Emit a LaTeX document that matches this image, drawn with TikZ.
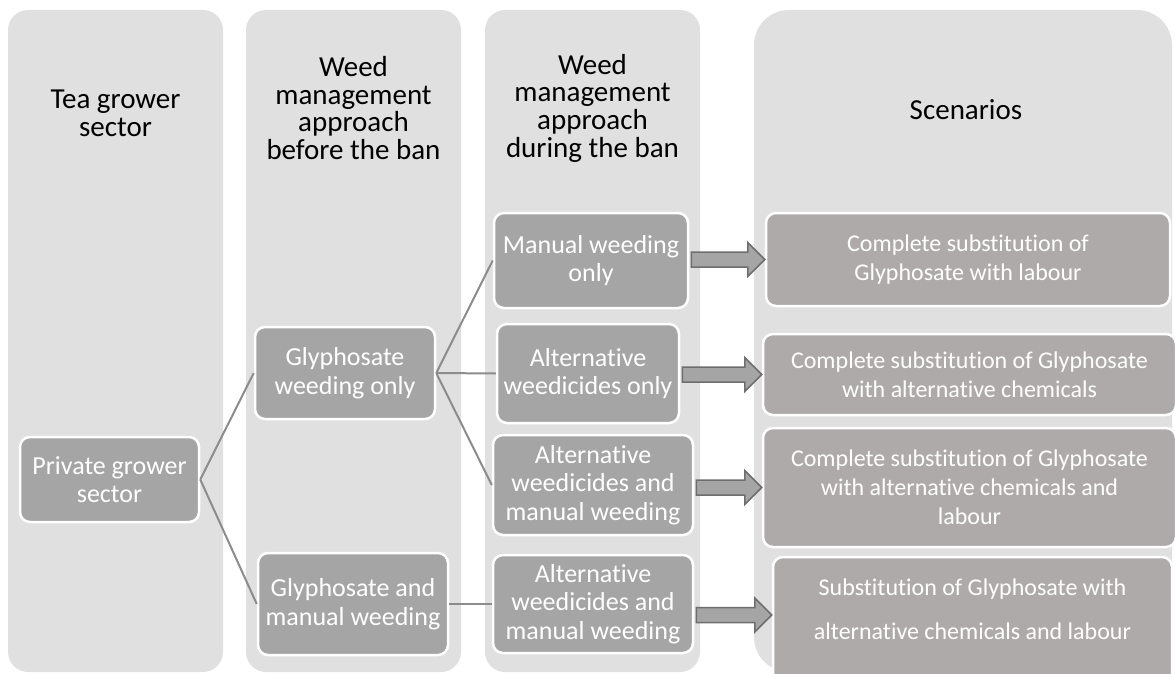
\documentclass[tikz,border=0pt]{standalone}
\usepackage{fontspec}
\setmainfont{Carlito}[Ligatures={NoCommon}]
\usepackage{tikz}
\usetikzlibrary{calc}

\definecolor{colbg}{RGB}{224,224,224}
\definecolor{boxgray}{RGB}{165,165,165}
\definecolor{scengray}{RGB}{174,170,170}
\definecolor{linegray}{RGB}{140,140,140}
\definecolor{arrowedge}{RGB}{110,110,110}

\begin{document}
\begin{tikzpicture}[x=1pt, y=-1pt,
    head/.style={align=center, font=\fontsize{29}{27.7}\selectfont},
    box/.style={draw=white, line width=2.5pt, fill=boxgray, rounded corners=10pt,
        text=white, align=center, inner sep=0pt, font=\fontsize{26}{28.5}\selectfont},
    scen/.style={box, fill=scengray, font=\fontsize{24}{29}\selectfont},
    link/.style={draw=linegray, line width=2pt},
    blockarrow/.style={draw=arrowedge, fill=boxgray, line width=1.5pt,
        to path={let \p1=(\tikztostart), \p2=(\tikztotarget) in
            (\x1+2pt,\y2+7.5pt) -- (\x2-17pt,\y2+7.5pt) -- (\x2-17pt,\y2+17pt) -- (\x2,\y2)
            -- (\x2-17pt,\y2-17pt) -- (\x2-17pt,\y2-7.5pt) -- (\x1+2pt,\y2-7.5pt) -- cycle}}]

    \clip (0,0) rectangle (1175,674);

    \fill[colbg, rounded corners=20pt] (8,10) rectangle (223,672);
    \fill[colbg, rounded corners=20pt] (246,10) rectangle (461,672);
    \fill[colbg, rounded corners=20pt] (485,10) rectangle (700,672);
    \fill[colbg, rounded corners=35pt] (754,10) rectangle (1172,672);

    \node[head] (sector) at (115.5,113) {Tea grower\\sector};
    \node[head] (before) at (353.5,108) {Weed\\management\\approach\\before the ban};
    \node[head] (during) at (592.5,108) {Weed\\management\\approach\\during the ban};
    \node[head] (scenarios) at (966,110) {Scenarios};

    \node[box, minimum width=179pt, minimum height=85pt] (private) at (109.5,479.5) {Private grower\\sector};

    \node[box, minimum width=180pt, minimum height=92pt] (glyonly) at (345,373) {Glyphosate\\weeding only};
    \node[box, minimum width=190pt, minimum height=102pt] (glyman) at (353,604) {Glyphosate and\\manual weeding};

    \node[box, minimum width=194pt, minimum height=95pt] (manual) at (591,260.5) {Manual weeding\\only};
    \node[box, minimum width=182pt, minimum height=99pt] (altonly) at (588,373.5) {Alternative\\weedicides only};
    \node[box, minimum width=200pt, minimum height=100pt] (altmanA) at (593,485) {Alternative\\weedicides and\\manual weeding};
    \node[box, minimum width=200pt, minimum height=98pt] (altmanB) at (593,604) {Alternative\\weedicides and\\manual weeding};

    \node[scen, minimum width=404pt, minimum height=93pt] (labour) at (968,259.5) {Complete substitution of\\Glyphosate with labour};
    \node[scen, minimum width=413pt, minimum height=81pt] (chem) at (969.5,374.5) {Complete substitution of Glyphosate\\with alternative chemicals};
    \node[scen, minimum width=413pt, minimum height=119pt] (chemlab) at (969.5,487.5) {Complete substitution of Glyphosate\\with alternative chemicals and\\labour};
    \node[scen, minimum width=399pt, minimum height=148pt, font=\fontsize{24}{44}\selectfont] (partial) at (972.5,631) {Substitution of Glyphosate with\\alternative chemicals and labour\\~};

    \draw[link] (private.east) -- (glyonly.west);
    \draw[link] (private.east) -- (glyman.west);
    \draw[link] (glyonly.east) -- (manual.west);
    \draw[link] (glyonly.east) -- (altonly.west);
    \draw[link] (glyonly.east) -- (altmanA.west);
    \draw[link] (glyman.east) -- (altmanB.west);

    \draw[blockarrow] (manual.east) to (labour.west);
    \draw[blockarrow] (altonly.east) to (chem.west);
    \draw[blockarrow] (altmanA.east) to (chemlab.west);
    \draw[blockarrow] (altmanB.east) to ([yshift=16pt]partial.west);
\end{tikzpicture}
\end{document}
